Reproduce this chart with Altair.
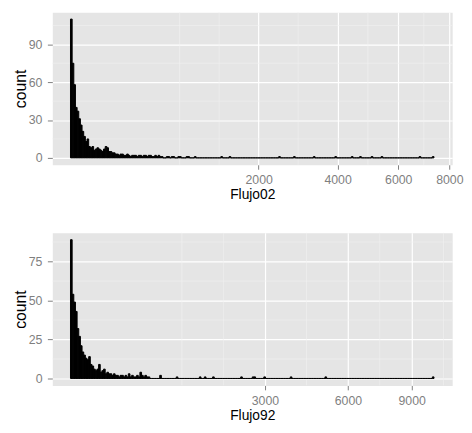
import math
import pandas as pd
import altair as alt

# ---------------- data ----------------
# Both histograms are binned in square-root space (equal-width bins on a sqrt x axis).
# Flujo02
f02_sqrt_range = [0.6, 85.85]          # first / last bin edge, in sqrt units
f02_nbins = 220
f02_head_counts = [110, 75, 58, 40, 37, 31, 26, 21, 17, 13, 15, 9, 8, 9, 6, 7, 8, 7,
                   6, 5, 7, 9, 8, 5, 5, 4, 4, 3, 3, 2, 3, 3, 2, 2, 3, 2, 1, 2, 2, 2,
                   1, 2, 2, 1, 2, 2, 1, 2, 2, 1, 1, 2, 1, 2, 1, 1]
f02_tail_values = [543, 565, 598, 621, 680, 698, 780, 812, 886, 1288, 1433, 2463,
                   2802, 3358, 3964, 4430, 4724, 5079, 5414, 6794, 7318]
f02_xbreaks = [2000, 4000, 6000, 8000]
f02_ybreaks = [0, 30, 60, 90]

# Flujo92
f92_sqrt_range = [1.67, 100.97]
f92_nbins = 220
f92_head_counts = [89, 54, 49, 43, 32, 27, 21, 17, 15, 13, 12, 14, 9, 8, 6, 5, 6, 9,
                   4, 5, 6, 3, 4, 3, 3, 2, 3, 2, 2, 1, 2, 2, 1, 2, 1, 3, 1, 2, 1, 1,
                   2, 1, 4, 2, 1, 2, 1, 1]
f92_tail_values = [686, 686, 956, 1384, 1465, 1648, 2346, 2634, 2706, 2994, 3833,
                   5110, 10157]
f92_xbreaks = [3000, 6000, 9000]
f92_ybreaks = [0, 25, 50, 75]

FONT = "Liberation Sans"
PANEL_W = 406


def build_bins(sqrt_range, nbins, head, tail):
    lo, hi = sqrt_range
    w = (hi - lo) / nbins
    counts = [0] * nbins
    for i, c in enumerate(head):
        counts[i] += c
    for v in tail:
        i = min(int((math.sqrt(v) - lo) / w), nbins - 1)
        counts[i] += 1
    rows = [{"x0": (lo + i * w) ** 2, "x1": (lo + (i + 1) * w) ** 2,
             "count": c, "base": 0} for i, c in enumerate(counts)]
    return pd.DataFrame(rows)


def minor_breaks(majors, lim):
    # ggplot2-style regular minor breaks (in transformed space)
    b = list(majors)
    if lim[0] < b[0]:
        b = [b[0] - (b[1] - b[0])] + b
    if lim[1] > b[-1]:
        b = b + [b[-1] + (b[-1] - b[-2])]
    out = []
    for a, c in zip(b[:-1], b[1:]):
        out += [a, (a + c) / 2]
    out.append(b[-1])
    return [m for m in out if lim[0] <= m <= lim[1] and m not in majors]


def panel(sqrt_range, nbins, head, tail, xbreaks, ybreaks, xtitle, height):
    df = build_bins(sqrt_range, nbins, head, tail)
    lo, hi = sqrt_range
    pad = 0.05 * (hi - lo)
    slim = [lo - pad, hi + pad]
    xdom = [math.copysign(s * s, s) for s in slim]
    ymax = float(df["count"].max())
    ylim = [-0.05 * ymax, 1.05 * ymax]

    sx_major = [math.sqrt(v) for v in xbreaks]
    xminor = [math.copysign(m * m, m) for m in minor_breaks(sx_major, slim)]
    yminor = minor_breaks(ybreaks, ylim)

    xscale = alt.Scale(type="sqrt", domain=xdom, nice=False, zero=False)
    yscale = alt.Scale(domain=ylim, nice=False, zero=False)
    xaxis = alt.Axis(values=xbreaks, title=xtitle, format="d")
    yaxis = alt.Axis(values=ybreaks, title="count", format="d")

    vminor = alt.Chart(pd.DataFrame({"v": xminor})).mark_rule(
        color="#F2F2F2", strokeWidth=0.6).encode(
        x=alt.X("v:Q", scale=xscale, axis=xaxis))
    hminor = alt.Chart(pd.DataFrame({"v": yminor})).mark_rule(
        color="#F2F2F2", strokeWidth=0.6).encode(
        y=alt.Y("v:Q", scale=yscale, axis=yaxis))
    bars = alt.Chart(df).mark_rect(color="black", stroke="black", strokeWidth=1).encode(
        x=alt.X("x0:Q", scale=xscale, axis=xaxis),
        x2="x1:Q",
        y=alt.Y("count:Q", scale=yscale, axis=yaxis),
        y2="base:Q",
    )
    return alt.layer(vminor, hminor, bars).properties(width=PANEL_W, height=height)


top = panel(f02_sqrt_range, f02_nbins, f02_head_counts, f02_tail_values,
            f02_xbreaks, f02_ybreaks, "Flujo02", 155)
bottom = panel(f92_sqrt_range, f92_nbins, f92_head_counts, f92_tail_values,
               f92_xbreaks, f92_ybreaks, "Flujo92", 155)

chart = alt.vconcat(top, bottom, spacing=30).properties(
    padding={"left": 4, "top": 0, "right": 0, "bottom": 0}
).configure_view(
    fill="#E5E5E5", stroke="transparent"
).configure_axis(
    grid=True, gridColor="white", gridWidth=1.2, domain=False,
    tickColor="#7F7F7F", tickSize=4.5, tickWidth=1,
    labelColor="#7F7F7F", labelFont=FONT, labelFontSize=12.5, labelFlush=False,
    labelOverlap=False,
    titleFont=FONT, titleFontSize=14, titleFontWeight="normal", titleColor="black",
).configure_axisX(
    labelPadding=4.5, titlePadding=2
).configure_axisY(
    tickSize=5, labelPadding=5.5, titlePadding=0, titleFontSize=16
)

chart.save("out.html", embed_options={"renderer": "svg", "actions": False})
